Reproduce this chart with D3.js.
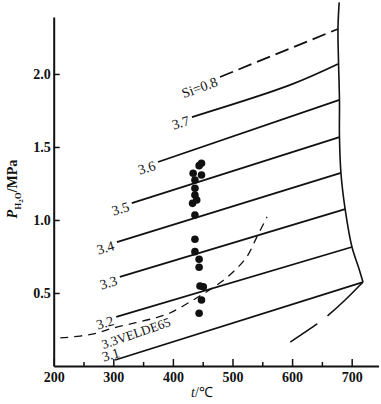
<!DOCTYPE html>
<html><head><meta charset="utf-8">
<script src="https://cdn.jsdelivr.net/npm/d3@7"></script>
<style>
html,body{margin:0;padding:0;background:#fff;}
svg{display:block;}
text{font-family:"Liberation Serif","Times New Roman",serif;fill:#111;}
</style></head>
<body>
<div id="chart"></div>
<script>
// ---- data ----
const xTicks = [200, 300, 400, 500, 600, 700];
const xMinorTicks = [250, 350, 450, 550, 650];
const yTicks = [0.5, 1.0, 1.5, 2.0];
const yTickLabels = ["0.5", "1.0", "1.5", "2.0"];

const isoLabels = ["3.7", "3.6", "3.5", "3.4", "3.3", "3.2", "3.1"];
const isoT = [[432, 597, 677], [375, 679.5], [331, 679.5], [306, 682], [311, 689], [305, 700.5], [303, 719]];
const isoP = [[1.705, 1.925, 2.068], [1.397, 1.822], [1.116, 1.568], [0.849, 1.322], [0.610, 1.075], [0.336, 0.815], [0.041, 0.575]];

const siLabel = "Si=0.8";
const siT = [479, 677];
const siP = [1.979, 2.308];

const boundaryT = [679, 677, 678, 679.5, 679.5, 682, 689, 700.5, 712, 719];
const boundaryP = [2.49, 2.31, 2.07, 1.82, 1.57, 1.32, 1.075, 0.815, 0.67, 0.575];

const lowerT = [719, 689, 659, 642, 597];
const lowerP = [0.575, 0.452, 0.342, 0.288, 0.164];

const veldeLabel = "3.3VELDE65";
const veldeT = [211, 244, 273, 299.5, 336, 370, 395, 434, 474, 501, 524, 541, 558];
const veldeP = [0.192, 0.205, 0.226, 0.26, 0.295, 0.329, 0.363, 0.452, 0.555, 0.644, 0.747, 0.884, 1.021];

const dotT = [448, 444, 434, 448, 437, 437, 437, 440, 433, 437, 437, 437, 444, 444, 445.5, 451, 448, 444];
const dotP = [1.388, 1.372, 1.320, 1.308, 1.274, 1.217, 1.171, 1.137, 1.114, 1.034, 0.868, 0.783, 0.731, 0.676, 0.548, 0.543, 0.452, 0.361];

// ---- drawing ----
const W = 381, H = 404;
const svg = d3.select("#chart").append("svg").attr("width", W).attr("height", H);
svg.append("rect").attr("width", W).attr("height", H).attr("fill", "#fff");

const x = d3.scaleLinear().domain([200, 745]).range([53.7, 378.5]);
const y = d3.scaleLinear().domain([0, 2.39]).range([366, 17]);

const ink = "#111";
const serif = '"Liberation Serif","Times New Roman",serif';

// axes
const xAxis = svg.append("g").attr("transform", `translate(0,${y(0)})`)
  .call(d3.axisBottom(x).tickValues(xTicks).tickSizeInner(-7).tickSizeOuter(0).tickPadding(6).tickFormat(d3.format("d")));
xAxis.select(".domain").attr("stroke", ink).attr("stroke-width", 2);
xAxis.selectAll(".tick line").attr("stroke", ink).attr("stroke-width", 1.5);
xAxis.selectAll(".tick text").attr("font-size", 14).attr("font-weight", "bold").attr("fill", ink).attr("font-family", serif);
const xMinor = svg.append("g").attr("transform", `translate(0,${y(0)})`)
  .call(d3.axisBottom(x).tickValues(xMinorTicks).tickSizeInner(-4).tickSizeOuter(0).tickFormat(""));
xMinor.select(".domain").remove();
xMinor.selectAll(".tick line").attr("stroke", ink).attr("stroke-width", 1.5);

const yAxis = svg.append("g").attr("transform", `translate(${x(200)},0)`)
  .call(d3.axisLeft(y).tickValues(yTicks).tickSizeInner(-6).tickSizeOuter(0).tickPadding(3)
    .tickFormat((d, i) => yTickLabels[i]));
yAxis.select(".domain").attr("stroke", ink).attr("stroke-width", 2);
yAxis.selectAll(".tick line").attr("stroke", ink).attr("stroke-width", 1.5);
yAxis.selectAll(".tick text").attr("font-size", 14).attr("font-weight", "bold").attr("fill", ink).attr("font-family", serif);

// axis titles
const xt = svg.append("text").attr("x", 202).attr("y", 397).attr("text-anchor", "middle").attr("font-size", 14);
xt.append("tspan").attr("font-style", "italic").text("t");
xt.append("tspan").text("/℃");

const yt = svg.append("text").attr("transform", "translate(17,189) rotate(-90)").attr("text-anchor", "middle").attr("font-size", 14).attr("font-weight", "bold");
yt.append("tspan").attr("font-style", "italic").text("P");
yt.append("tspan").attr("font-size", 9).attr("dy", 4).text("H");
yt.append("tspan").attr("font-size", 7).attr("dy", 2).text("2");
yt.append("tspan").attr("font-size", 9).attr("dy", -2).text("O");
yt.append("tspan").attr("dy", -4).text("/MPa");

const line = d3.line().x(d => x(d[0])).y(d => y(d[1]));
const smooth = d3.line().x(d => x(d[0])).y(d => y(d[1])).curve(d3.curveCatmullRom.alpha(0.5));
const zip = (a, b) => a.map((v, i) => [v, b[i]]);

// isopleths
isoLabels.forEach((lab, i) => {
  const pts = zip(isoT[i], isoP[i]);
  svg.append("path").attr("d", smooth(pts)).attr("fill", "none").attr("stroke", ink).attr("stroke-width", 1.8);
  const x0 = x(pts[0][0]), y0 = y(pts[0][1]);
  const last = i === isoLabels.length - 1;   // lowest label sits above its line start
  const lx = last ? x0 + 4 : x0 - 3, ly = last ? y0 - 8 : y0 + 3;
  svg.append("text").attr("transform", `translate(${lx},${ly}) rotate(-17)`)
    .attr("text-anchor", "end").attr("dy", "0.35em").attr("font-size", 14).text(lab);
});

// Si = 0.8 dashed
const siPts = zip(siT, siP);
svg.append("path").attr("d", line(siPts)).attr("fill", "none").attr("stroke", ink).attr("stroke-width", 1.8).attr("stroke-dasharray", "14,6");
svg.append("text").attr("transform", `translate(${x(siT[0]) - 3},${y(siP[0]) + 4}) rotate(-20)`)
  .attr("text-anchor", "end").attr("dy", "0.35em").attr("font-size", 14).text(siLabel);

// boundary
svg.append("path").attr("d", smooth(zip(boundaryT, boundaryP))).attr("fill", "none").attr("stroke", ink).attr("stroke-width", 1.6);
svg.append("path").attr("d", smooth(zip(lowerT, lowerP))).attr("fill", "none").attr("stroke", ink).attr("stroke-width", 1.6).attr("stroke-dasharray", "49,13,40,100");

// Velde curve
svg.append("path").attr("d", smooth(zip(veldeT, veldeP))).attr("fill", "none").attr("stroke", ink).attr("stroke-width", 1.3).attr("stroke-dasharray", "8,6");
svg.append("text").attr("transform", "translate(136,333) rotate(-19)").attr("text-anchor", "middle").attr("dy", "0.35em").attr("font-size", 13).text(veldeLabel);

// dots
svg.selectAll("circle.dot").data(zip(dotT, dotP)).enter().append("circle").attr("class", "dot")
  .attr("cx", d => x(d[0])).attr("cy", d => y(d[1])).attr("r", 3.8).attr("fill", ink);
</script>
</body></html>
